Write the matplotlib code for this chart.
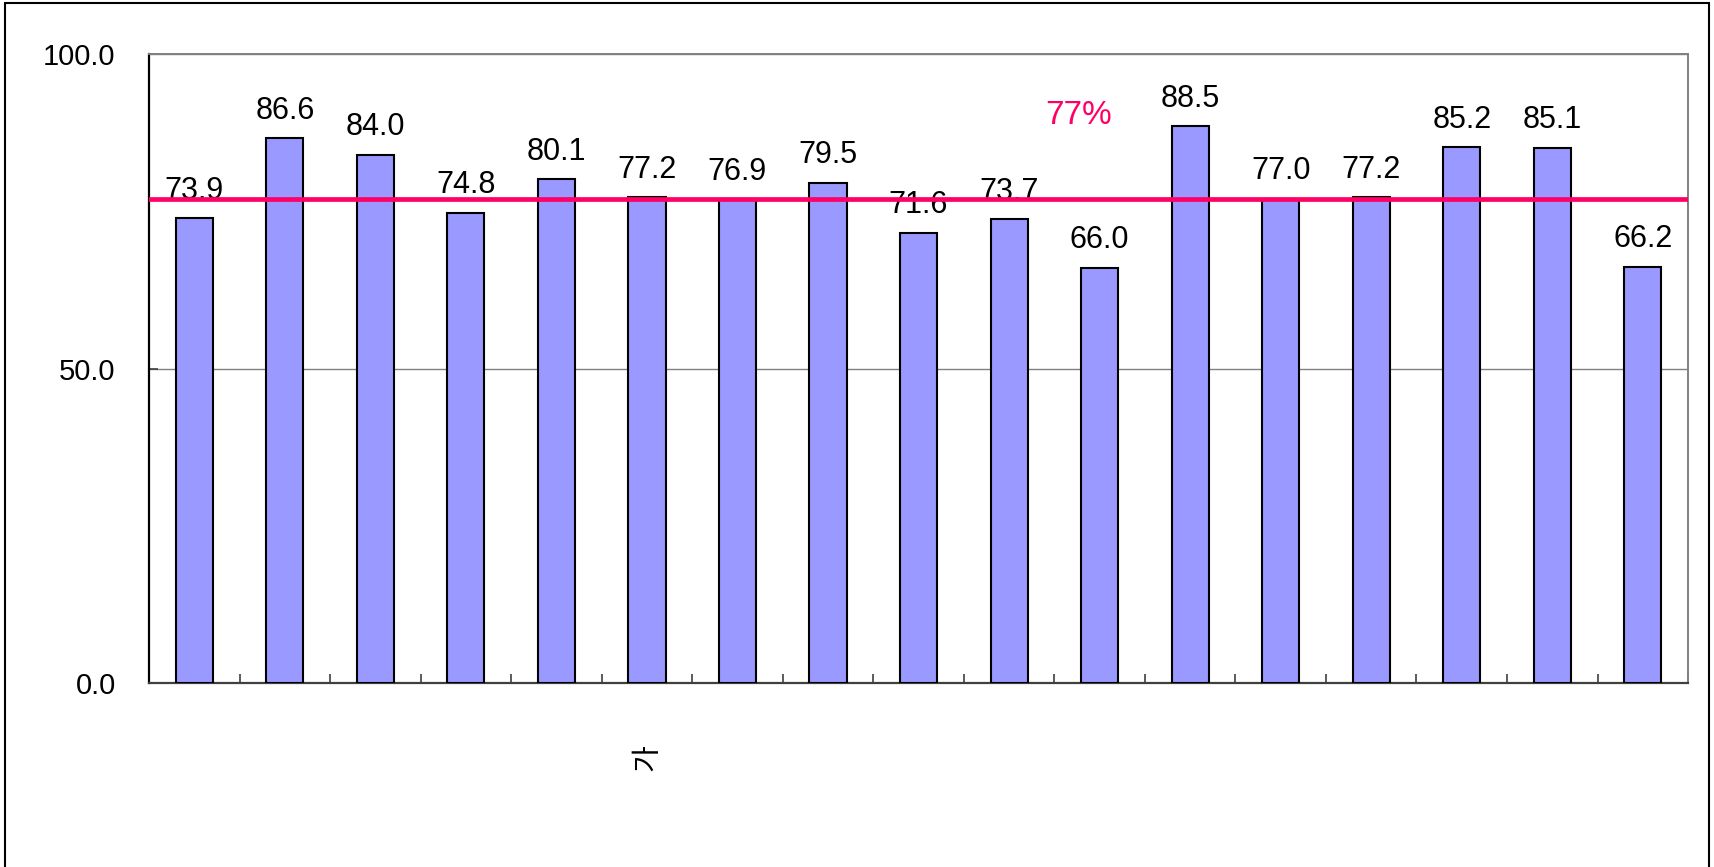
import matplotlib
matplotlib.use("Agg")
import matplotlib.pyplot as plt
import numpy as np
from matplotlib.patches import Rectangle

# data
values = [73.9, 86.6, 84.0, 74.8, 80.1, 77.2, 76.9, 79.5, 71.6, 73.7,
          66.0, 88.5, 77.0, 77.2, 85.2, 85.1, 66.2]
tick_labels = ["", "", "", "", "", "가", "", "", "", "", "", "", "", "", "", "", ""]
avg_value = 77
avg_label = "77%"
y_ticks = [0, 50, 100]

plt.rcParams['font.family'] = ['Liberation Sans', 'Noto Sans CJK KR', 'DejaVu Sans']

fig = plt.figure(figsize=(17.15, 8.67), dpi=100)
ax = fig.add_axes([0.0869, 0.2122, 0.8974, 0.7255])

x = np.arange(len(values))
ax.bar(x, values, width=0.41, color='#9999FF', edgecolor='black', linewidth=1.5, zorder=3)

for xi, v in zip(x, values):
    ax.annotate(f"{v:.1f}", (xi, v), xytext=(0, 9), textcoords='offset points',
                ha='center', va='bottom', fontsize=22, color='black', zorder=2)

ax.axhline(avg_value, color='#FF0066', linewidth=3.4, zorder=4)
ax.text(9.77, 90.3, avg_label, color='#FF0066', fontsize=24, ha='center', va='center')

ax.set_xlim(-0.5, len(values) - 0.5)
ax.set_ylim(0, 100)
ax.set_yticks(y_ticks)
ax.set_yticklabels([f"{t:.1f}" for t in y_ticks], fontsize=21)
ax.yaxis.grid(True, color='#808080', linewidth=1.0, zorder=0)

ax.set_xticks(x)
ax.set_xticklabels(tick_labels, rotation=90, fontsize=21)
ax.tick_params(axis='x', which='major', length=0, pad=44)
ax.set_xticks(np.arange(len(values) + 1) - 0.5, minor=True)
ax.tick_params(axis='x', which='minor', direction='in', length=6.5, color='#404040', width=1.2)
ax.tick_params(axis='y', direction='in', length=6.5, color='#404040', width=1.2, pad=24)

ax.spines['left'].set_color('black')
ax.spines['left'].set_linewidth(1.6)
ax.spines['bottom'].set_color('#404040')
ax.spines['bottom'].set_linewidth(1.6)
ax.spines['top'].set_color('#808080')
ax.spines['right'].set_color('#808080')
ax.spines['top'].set_linewidth(1.4)
ax.spines['right'].set_linewidth(1.4)

# outer chart border
fig.patches.append(Rectangle((5 / 1715, -0.02), (1709 - 5) / 1715, 1.02 - 3 / 867,
                             transform=fig.transFigure, fill=False,
                             edgecolor='black', linewidth=1.5, clip_on=False))

fig.savefig("out.png", dpi=100)
